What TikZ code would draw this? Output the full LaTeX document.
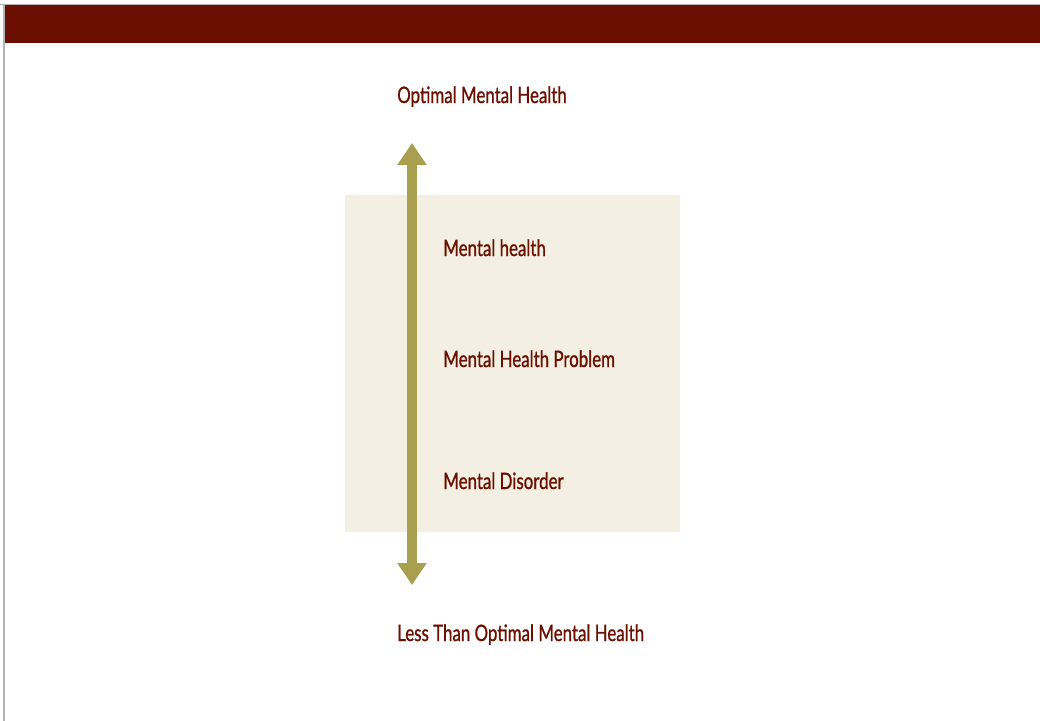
\documentclass[tikz,border=0pt]{standalone}
\usepackage{fontspec}
\setmainfont{Lato}[FakeStretch=0.745,FakeBold=0.9]
\usetikzlibrary{arrows.meta}
\definecolor{barred}{HTML}{6B1000}
\definecolor{boxbeige}{HTML}{F3EFE3}
\definecolor{olive}{HTML}{A89F4F}
\tikzset{lbl/.style={anchor=base west, inner sep=0pt, text=barred, font=\fontsize{17}{20}\selectfont}}

\begin{document}
\begin{tikzpicture}[x=0.75pt,y=-0.75pt]
\useasboundingbox (0,0) rectangle (1040,721);

\fill [barred] (5,5) rectangle (1040,43);
\draw [gray!60, line width=1.2pt] (0,4.5) -- (1040,4.5);
\draw [gray!60, line width=1.2pt] (4,4.5) -- (4,721);

\fill [boxbeige] (345,195) rectangle (680,532);

\coordinate (up) at (412,143);
\coordinate (down) at (412,585);
\draw [olive, line width=7.5pt, {Triangle[width=21pt,length=16.5pt]}-{Triangle[width=21pt,length=16.5pt]}]
  (down) -- (up);

\node [lbl] (optimal) at (397,103) {Optimal Mental Health};
\node [lbl] (health) at (443,256) {Mental health};
\node [lbl] (problem) at (443,367) {Mental Health Problem};
\node [lbl] (disorder) at (443,489) {Mental Disorder};
\node [lbl] (less) at (397,641) {Less Than Optimal Mental Health};

\end{tikzpicture}
\end{document}
